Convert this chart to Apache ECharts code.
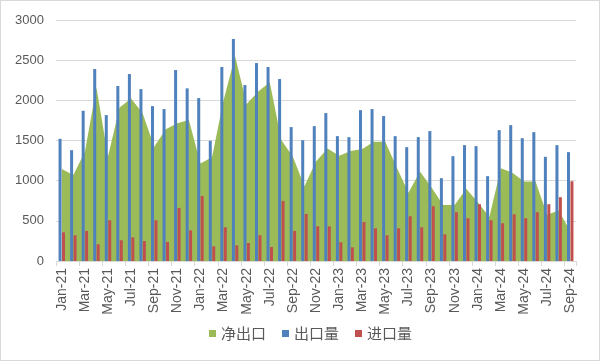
<!DOCTYPE html>
<html>
<head>
<meta charset="utf-8">
<script src="https://cdn.jsdelivr.net/npm/echarts@6/dist/echarts.min.js"></script>
<style>
html,body{margin:0;padding:0;background:#fff;}
#frame{position:absolute;left:0;top:0;width:598px;height:359px;border:1px solid #d9d9d9;}
#chart{position:absolute;left:0;top:0;width:600px;height:361px;}
</style>
</head>
<body>
<div id="frame"></div>
<div id="chart"></div>
<script>
const categories = ["Jan-21","Feb-21","Mar-21","Apr-21","May-21","Jun-21","Jul-21","Aug-21","Sep-21","Oct-21","Nov-21","Dec-21",
"Jan-22","Feb-22","Mar-22","Apr-22","May-22","Jun-22","Jul-22","Aug-22","Sep-22","Oct-22","Nov-22","Dec-22",
"Jan-23","Feb-23","Mar-23","Apr-23","May-23","Jun-23","Jul-23","Aug-23","Sep-23","Oct-23","Nov-23","Dec-23",
"Jan-24","Feb-24","Mar-24","Apr-24","May-24","Jun-24","Jul-24","Aug-24","Sep-24"];
const netExport = [1145,1070,1360,2160,1300,1912,2024,1840,1421,1640,1716,1754,
1214,1290,2000,2550,1953,2110,2225,1505,1297,930,1240,1400,1310,1370,1395,1484,1484,1160,850,1115,915,697,697,900,
730,549,1155,1100,990,990,575,630,370];
const exportVol = [1521,1380,1870,2390,1816,2178,2327,2140,1928,1891,2377,2149,
2028,1496,2415,2764,2190,2464,2415,2265,1667,1504,1679,1841,1554,1542,1878,1891,1804,1554,1417,1542,1617,1031,1305,1442,
1430,1056,1629,1691,1529,1604,1297,1442,1355];
const importVol = [357,320,374,208,507,258,295,249,507,237,661,382,
810,183,420,195,224,320,175,748,374,586,432,432,233,170,486,407,320,407,557,420,682,332,607,532,
707,507,470,582,532,607,707,794,993];
const yMax = 3000, yInterval = 500;

const chart = echarts.init(document.getElementById('chart'), null, {renderer:'canvas'});
const txt = '#595959';
chart.setOption({
  animation:false,
  textStyle:{fontFamily:'"Liberation Sans", Arial, "Noto Sans CJK SC", sans-serif'},
  grid:{left:56,right:24,top:20,bottom:100,containLabel:false},
  legend:{
    bottom:15, left:204,
    itemWidth:7, itemHeight:7, itemGap:16,
    icon:'rect',
    textStyle:{color:txt,fontSize:15,fontFamily:'"Noto Sans CJK SC", sans-serif'},
    data:['净出口','出口量','进口量']
  },
  xAxis:{
    type:'category', data:categories, boundaryGap:true,
    axisLine:{lineStyle:{color:'#d9d9d9'}},
    axisTick:{show:true,interval:1,length:5,lineStyle:{color:'#d9d9d9'}},
    axisLabel:{interval:1,rotate:90,color:txt,fontSize:14,margin:7}
  },
  yAxis:{
    type:'value', min:0, max:yMax, interval:yInterval,
    axisLine:{show:false}, axisTick:{show:false},
    splitLine:{lineStyle:{color:'#d9d9d9'}},
    axisLabel:{color:txt,fontSize:13,margin:12,formatter:function(v){return String(v);}}
  },
  series:[
    {name:'净出口',type:'line',data:netExport,symbol:'none',smooth:false,
     itemStyle:{color:'#9BBB59'},lineStyle:{width:0,color:'#9BBB59'},
     areaStyle:{color:'#9BBB59',opacity:1}, z:1},
    {name:'出口量',type:'bar',data:exportVol,barWidth:3,barGap:'15%',
     itemStyle:{color:'#4F81BD'}, z:2},
    {name:'进口量',type:'bar',data:importVol,barWidth:3,barGap:'15%',
     itemStyle:{color:'#C0504D'}, z:2}
  ]
});
</script>
</body>
</html>
